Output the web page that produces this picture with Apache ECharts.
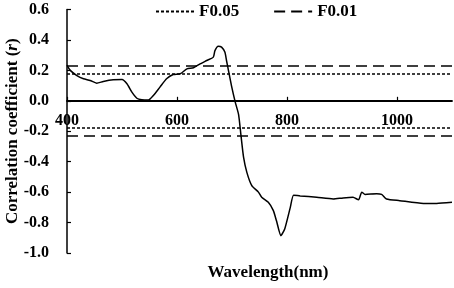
<!DOCTYPE html>
<html>
<head>
<meta charset="utf-8">
<script src="https://cdn.jsdelivr.net/npm/echarts@6/dist/echarts.min.js"></script>
<style>
html, body { margin: 0; padding: 0; background: #fff; }
#chart { width: 454px; height: 288px; }
</style>
</head>
<body>
<div id="chart"></div>
<script>
// 光谱波长 (nm) 与相关系数 r
const wavelength = [400, 406, 418, 430, 442, 454, 466, 484, 500, 509, 518, 527, 536, 548, 557, 569, 581, 593, 606, 618, 630, 642, 654, 666, 669, 675, 681, 687, 690, 693, 699, 706, 712, 716, 721, 727, 736, 748, 754, 766, 775, 781, 789, 796, 806, 812, 824, 854, 884, 902, 920, 930, 936, 942, 963, 972, 981, 1005, 1048, 1072, 1100];
const correlation = [0.235, 0.20, 0.166, 0.145, 0.134, 0.116, 0.127, 0.138, 0.14, 0.112, 0.057, 0.017, 0.007, 0.005, 0.035, 0.09, 0.145, 0.173, 0.178, 0.21, 0.217, 0.243, 0.265, 0.287, 0.33, 0.359, 0.353, 0.32, 0.265, 0.21, 0.10, -0.01, -0.09, -0.217, -0.37, -0.47, -0.557, -0.6, -0.634, -0.667, -0.72, -0.79, -0.886, -0.84, -0.70, -0.62, -0.625, -0.634, -0.645, -0.638, -0.634, -0.65, -0.60, -0.615, -0.61, -0.615, -0.645, -0.656, -0.674, -0.674, -0.667];

// 显著性检验阈值
const f005 = [0.18, -0.18];
const f001 = [0.23, -0.23];
const legendNames = ['F0.05', 'F0.01'];

const xTicks = { min: 400, max: 1100, interval: 200 };
const yTicks = { min: -1.0, max: 0.6, interval: 0.2 };

const font = '"Liberation Serif", "Times New Roman", serif';

let myChart = echarts.init(document.getElementById('chart'));

let curve = wavelength.map((w, i) => [w, correlation[i]]);

// 网格高度，用来把 x 轴挪到 r = 0 的位置
const gridTop = 9.5, gridBottom = 35;
const plotH = 288 - gridTop - gridBottom;
const zeroOffset = -plotH * (0 - yTicks.min) / (yTicks.max - yTicks.min);

function thresholdSeries(name, values, dash) {
    return {
        name: name,
        type: 'line',
        data: [],
        symbol: 'none',
        itemStyle: { color: '#000' },
        lineStyle: { color: '#000', width: 1.5, type: dash },
        markLine: {
            silent: true,
            symbol: 'none',
            label: { show: false },
            lineStyle: { color: '#000', width: 1.5, type: dash },
            data: values.map(v => ({ yAxis: v }))
        }
    };
}

let option = {
    backgroundColor: '#fff',
    animation: false,
    grid: {
        left: 67,
        right: 2,
        top: gridTop,
        bottom: gridBottom,
        containLabel: false,
        outerBoundsMode: 'none'
    },
    legend: {
        data: legendNames,
        left: 150,
        top: -2,
        itemWidth: 38,
        itemHeight: 14,
        itemGap: 34,
        itemStyle: { color: 'rgba(0,0,0,0)', borderColor: 'rgba(0,0,0,0)', borderWidth: 0 },
        textStyle: { fontFamily: font, fontWeight: 'bold', fontSize: 17, color: '#000' }
    },
    xAxis: {
        type: 'value',
        min: xTicks.min,
        max: xTicks.max,
        interval: xTicks.interval,
        offset: zeroOffset,
        name: 'Wavelength(nm)',
        nameLocation: 'middle',
        nameGap: 163,
        nameMoveOverlap: false,
        nameTextStyle: { fontFamily: font, fontWeight: 'bold', fontSize: 17, color: '#000', padding: [0, 0, 0, 17] },
        axisLine: { onZero: false, lineStyle: { color: '#000', width: 1.8 } },
        axisTick: { inside: true, length: 4, lineStyle: { color: '#000', width: 1.2 } },
        axisLabel: {
            margin: 12,
            showMaxLabel: false,
            formatter: v => String(v),
            fontFamily: font, fontWeight: 'bold', fontSize: 16, color: '#000'
        },
        splitLine: { show: false }
    },
    yAxis: {
        type: 'value',
        min: yTicks.min,
        max: yTicks.max,
        interval: yTicks.interval,
        name: '{n|Correlation coefficient (}{i|r}{n|)}',
        nameLocation: 'middle',
        nameGap: 46,
        nameMoveOverlap: false,
        nameTextStyle: {
            rich: {
                n: { fontFamily: font, fontWeight: 'bold', fontSize: 17, color: '#000' },
                i: { fontFamily: font, fontWeight: 'bold', fontStyle: 'italic', fontSize: 17, color: '#000' }
            }
        },
        axisLine: { onZero: false, lineStyle: { color: '#000', width: 1.5 } },
        axisTick: { inside: true, length: 4, lineStyle: { color: '#000', width: 1.2 } },
        axisLabel: {
            margin: 18,
            formatter: v => v.toFixed(1),
            fontFamily: font, fontWeight: 'bold', fontSize: 16, color: '#000'
        },
        splitLine: { show: false }
    },
    series: [
        {
            name: 'r',
            type: 'line',
            data: curve,
            symbol: 'none',
            smooth: 0.2,
            lineStyle: { color: '#000', width: 1.5 },
            z: 3
        },
        thresholdSeries('F0.05', f005, [3, 2]),
        thresholdSeries('F0.01', f001, [11, 6])
    ]
};

myChart.setOption(option);
</script>
</body>
</html>
